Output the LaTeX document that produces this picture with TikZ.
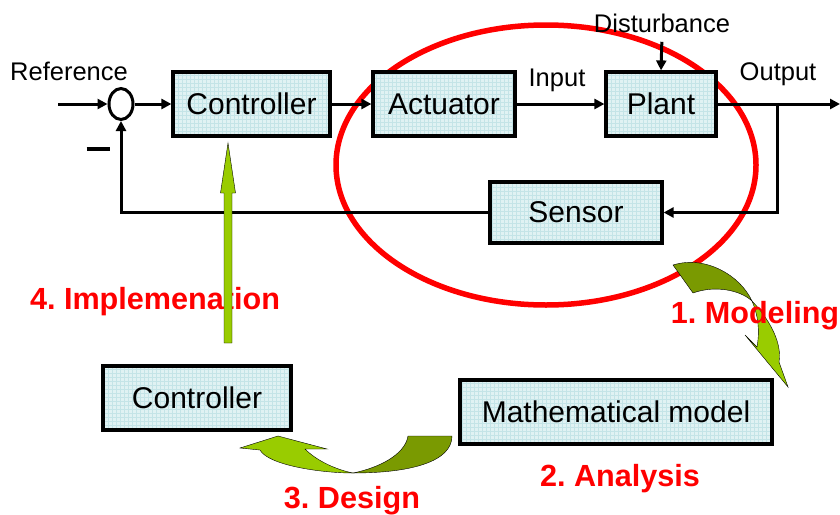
\documentclass[tikz,border=0pt]{standalone}
\usepackage{fontspec}
\setmainfont{Liberation Sans}
\usetikzlibrary{arrows.meta,shapes.geometric}
\definecolor{boxfill}{RGB}{224,242,243}
\definecolor{gridline}{RGB}{196,228,231}
\definecolor{leafdark}{RGB}{122,154,1}
\definecolor{leaflight}{RGB}{153,204,0}
\frenchspacing

\begin{document}
\begin{tikzpicture}[x=1pt,y=-1pt,
    block/.style={draw=black,line width=3.2pt,fill=boxfill,minimum height=64pt,inner sep=0pt,
      font=\fontsize{30}{36}\selectfont,
      path picture={\draw[gridline,line width=0.3pt] (path picture bounding box.south west) grid[step=4pt] (path picture bounding box.north east);}},
    sigtext/.style={anchor=base,font=\fontsize{25.5}{30}\selectfont},
    steptext/.style={anchor=base,text=red,font=\fontsize{30.6}{36}\selectfont\bfseries},
    wire/.style={line width=3pt,-{Triangle[length=10pt,width=10pt]}},
    leaf/.style={draw=black,line width=0.4pt}]
    		\useasboundingbox (0,0) rectangle (840,514);
    		\draw[red,line width=5.5pt] (546,165) ellipse [x radius=210pt,y radius=140pt];
    		
    		% loop
    		\node[draw,ellipse,line width=3pt,fill=white,minimum width=24pt,minimum height=31pt,inner sep=0pt] (sum) at (121,104){};
    		\node[block,minimum width=157pt] (ctrl) at (251.5,104){Controller};
    		\node[block,minimum width=142pt] (act) at (444,104){Actuator};
    		\node[block,minimum width=110pt] (plant) at (661,104){Plant};
    		\node[block,minimum width=172pt,minimum height=61pt] (sensor) at (576,212.5){Sensor};
    		
    		\node[sigtext] (ref) at (69,80){Reference};
    		\node[sigtext] (input) at (557,86){Input};
    		\node[sigtext] (dist) at (662,32){Disturbance};
    		\node[sigtext] (output) at (778,80){Output};
    		\node[inner sep=0pt] (minus) at (98,149){\rule{23pt}{4pt}};
    		
    		\coordinate (ref in) at (58,104);
    		\coordinate (out end) at (840,104);
    		\coordinate (branch) at (777,104);
    		
    		\draw[wire] (ref in) -- (sum.west);
    		\draw[wire] (sum.east) -- (ctrl.west);
    		\draw[wire] (ctrl.east) -- (act.west);
    		\draw[wire] (act.east) -- (plant.west);
    		\draw[wire] (plant.east) -- (out end);
    		\draw[wire] (branch) |- (sensor.east);
    		\draw[wire] (sensor.west) -| (sum.south);
    		\draw[wire,shorten <=6pt] (dist.south) -- (plant.north);
    		
    		% design cycle
    		\node[block,minimum width=188pt] (design) at (197,398){Controller};
    		\node[block,minimum width=312pt] (model) at (616,412){Mathematical model};
    		
    		\node[steptext] (implement) at (155,309){4. Implemenation};
    		\draw[leaf,fill=leaflight] (224,343) -- (224,193) -- (220.5,193) -- (228,143) -- (235.5,193) -- (232,193) -- (232,343) -- cycle;
    		
    		\draw[leaf,fill=leafdark] (673,265) .. controls (705,255) and (740,275) .. (752,301) .. controls (740,290) and (715,285) .. (693,293) -- cycle;
    		\draw[leaf,fill=leaflight] (752,301) .. controls (772,322) and (782,345) .. (779,362) -- (788,387) -- (745,335) -- (757,347) .. controls (760,330) and (758,315) .. (752,301) -- cycle;
    		
    		\draw[leaf,fill=leafdark] (408,436) -- (452,436) .. controls (452,462) and (410,473) .. (353,473) .. controls (378,468) and (405,455) .. (408,436) -- cycle;
    		\draw[leaf,fill=leaflight] (353,473) .. controls (320,473) and (268,465) .. (260,450) -- (240,448) -- (278,436) -- (327,449) -- (305,449) .. controls (318,462) and (338,470) .. (353,473) -- cycle;
    		
    		\node[steptext] (modeling) at (755,323){1. Modeling};
    		\node[steptext] (analysis) at (620,486){2. Analysis};
    		\node[steptext] (designlbl) at (352,508){3. Design};
    	\end{tikzpicture}
\end{document}
